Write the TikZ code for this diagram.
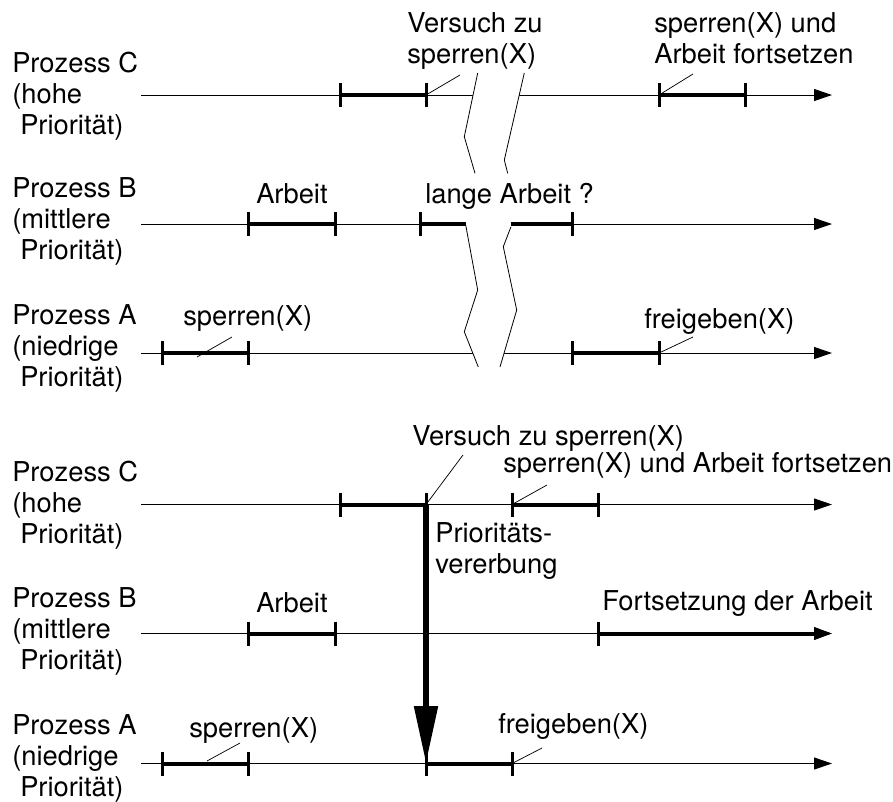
\documentclass[tikz,border=0pt]{standalone}
\usepackage{fontspec}
\setmainfont{TeX Gyre Heros}
\usetikzlibrary{arrows.meta}
\begin{document}
\begin{tikzpicture}[x=0.75pt,y=-0.75pt,
  every node/.style={inner sep=0pt,font=\fontsize{20.5}{23.25}\selectfont},
  proc/.style={anchor=north west,align=left},
  lbl/.style={anchor=base west},
  mlbl/.style={anchor=north west,align=left},
  timeline/.style={line width=0.75pt,-{Triangle[length=13.5pt,width=9pt]}},
  busy/.style={line width=3pt},
  busyarrow/.style={line width=3pt,-{Triangle[length=13.5pt,width=9pt]}},
  tickmark/.style={line width=2.25pt},
  leader/.style={line width=0.55pt},
  zigzag/.style={line width=0.6pt},
  inherit/.style={line width=4.5pt,-{Triangle[length=43pt,width=17pt]}}]
\useasboundingbox (0,0) rectangle (893,801);

% ---------------- upper scenario: priority inversion ----------------
\node[proc] (uC) at (12,51.5) {Prozess C\\(hohe\\\hspace*{6pt}Priorität)};
\node[proc] (uB) at (12,177.5) {Prozess B\\(mittlere\\\hspace*{6pt}Priorität)};
\node[proc] (uA) at (12,304.5) {Prozess A\\(niedrige\\\hspace*{6pt}Priorität)};

\coordinate (uC0) at (141,95);   \coordinate (uC9) at (832,95);
\coordinate (uB0) at (141,224);  \coordinate (uB9) at (832,224);
\coordinate (uA0) at (141,353);  \coordinate (uA9) at (832,353);

\draw[timeline] (uC0) -- (uC9);
\draw[timeline] (uB0) -- (uB9);
\draw[timeline] (uA0) -- (uA9);

% time cut across all three lines
\fill[white] (477.7,73) -- (464.3,136.7) -- (475,173.3) -- (465.7,225)
  -- (477.7,290) -- (464.3,331.7) -- (478.3,367) -- (500,367)
  -- (516.7,310) -- (503.3,246.7) -- (511,226.7) -- (507.7,173.3)
  -- (504.3,160) -- (524.3,73) -- cycle;
\draw[zigzag] (477.7,73) -- (464.3,136.7) -- (475,173.3);
\draw[zigzag] (465.7,225) -- (477.7,290) -- (464.3,331.7) -- (478.3,367);
\draw[zigzag] (524.3,73) -- (504.3,160) -- (507.7,173.3);
\draw[zigzag] (511,226.7) -- (503.3,246.7) -- (516.7,310) -- (500,367);

% busy intervals
\coordinate (uC1) at (340,95);  \coordinate (uC2) at (426,95);
\coordinate (uC3) at (659,95);  \coordinate (uC4) at (745,95);
\coordinate (uB1) at (248,224); \coordinate (uB2) at (335,224);
\coordinate (uB3) at (420,224); \coordinate (uB4) at (465.5,224);
\coordinate (uB5) at (510.5,224); \coordinate (uB6) at (572,224);
\coordinate (uA1) at (162,353); \coordinate (uA2) at (248,353);
\coordinate (uA3) at (572,353); \coordinate (uA4) at (659,353);

\draw[busy] (uC1) -- (uC2);  \draw[busy] (uC3) -- (uC4);
\draw[busy] (uB1) -- (uB2);  \draw[busy] (uB3) -- (uB4);
\draw[busy] (uB5) -- (uB6);
\draw[busy] (uA1) -- (uA2);  \draw[busy] (uA3) -- (uA4);
\foreach \t in {uC1,uC2,uC3,uC4,uB1,uB2,uB3,uB6,uA1,uA2,uA3,uA4}
  \draw[tickmark] (\t) ++(0,-12) -- ++(0,24);

% labels
\node[mlbl] (uTry) at (407,12.5) {Versuch zu\\sperren(X)};
\node[mlbl] (uGo) at (654,12.5) {sperren(X) und\\Arbeit fortsetzen};
\node[lbl] (uWork) at (256,203) {Arbeit};
\node[lbl] (uLong) at (425,203) {lange Arbeit ?};
\node[lbl] (uLock) at (183,325) {sperren(X)};
\node[lbl] (uFree) at (644,328) {freigeben(X)};

\coordinate (uTryL) at (460,75);  \draw[leader] (uTryL) -- (uC2);
\coordinate (uGoL) at (693,74);   \draw[leader] (uGoL) -- (uC3);
\coordinate (uLockL) at (232,337); \coordinate (uLockE) at (197,357);
\draw[leader] (uLockL) -- (uLockE);
\coordinate (uFreeL) at (693,337); \draw[leader] (uFreeL) -- (uA4);

% ---------------- lower scenario: priority inheritance ----------------
\node[proc] (lC) at (12,460.5) {Prozess C\\(hohe\\\hspace*{6pt}Priorität)};
\node[proc] (lB) at (12,587.5) {Prozess B\\(mittlere\\\hspace*{6pt}Priorität)};
\node[proc] (lA) at (12,714) {Prozess A\\(niedrige\\\hspace*{6pt}Priorität)};

\coordinate (lC0) at (141,504.5); \coordinate (lC9) at (832,504.5);
\coordinate (lB0) at (141,633.5); \coordinate (lB9) at (832,633.5);
\coordinate (lA0) at (141,763.5); \coordinate (lA9) at (832,763.5);

\draw[timeline] (lC0) -- (lC9);
\draw[timeline] (lB0) -- (lB9);
\draw[timeline] (lA0) -- (lA9);

\coordinate (lC1) at (340,504.5); \coordinate (lC2) at (426,504.5);
\coordinate (lC3) at (512,504.5); \coordinate (lC4) at (598,504.5);
\coordinate (lB1) at (248,633.5); \coordinate (lB2) at (335,633.5);
\coordinate (lB3) at (598,633.5);
\coordinate (lA1) at (162,763.5); \coordinate (lA2) at (248,763.5);
\coordinate (lA3) at (426,763.5); \coordinate (lA4) at (512,763.5);

\draw[busy] (lC1) -- (lC2);  \draw[busy] (lC3) -- (lC4);
\draw[busy] (lB1) -- (lB2);  \draw[busyarrow] (lB3) -- (lB9);
\draw[busy] (lA1) -- (lA2);  \draw[busy] (lA3) -- (lA4);
\foreach \t in {lC1,lC2,lC3,lC4,lB1,lB2,lB3,lA1,lA2,lA3,lA4}
  \draw[tickmark] (\t) ++(0,-12) -- ++(0,24);

% inheritance of the priority from C to A
\draw[inherit] (lC2) -- (lA3);

\node[lbl] (lTry) at (412,445) {Versuch zu sperren(X)};
\node[lbl] (lGo) at (503,472) {sperren(X) und Arbeit fortsetzen};
\node[mlbl] (lInh) at (435,522.5) {Prioritäts-\\vererbung};
\node[lbl] (lWork) at (256,612) {Arbeit};
\node[lbl] (lCont) at (602,610) {Fortsetzung der Arbeit};
\node[lbl] (lLock) at (189,737) {sperren(X)};
\node[lbl] (lFree) at (498,733) {freigeben(X)};

\coordinate (lTryL) at (463,455);  \draw[leader] (lTryL) -- (lC2);
\coordinate (lGoL) at (547,485);   \draw[leader] (lGoL) -- (lC3);
\coordinate (lLockL) at (240,743); \coordinate (lLockE) at (207,761);
\draw[leader] (lLockL) -- (lLockE);
\coordinate (lFreeL) at (542,748); \draw[leader] (lFreeL) -- (lA4);
\end{tikzpicture}
\end{document}
